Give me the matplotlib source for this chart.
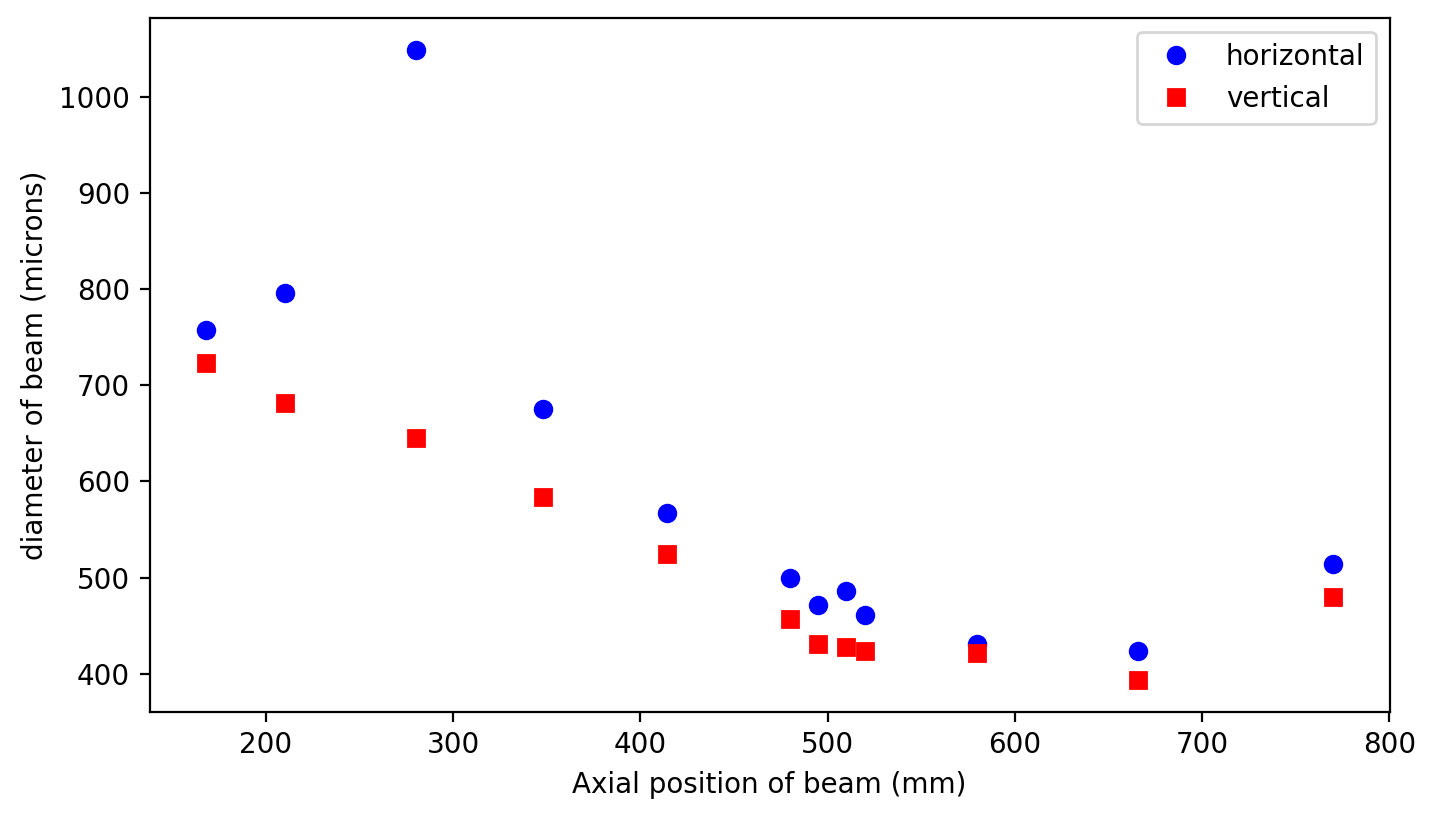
import matplotlib
matplotlib.use("Agg")
import matplotlib.pyplot as plt

# Axial positions (mm)
position = [168, 210, 280, 348, 414, 480, 495, 510, 520, 580, 666, 770]
# Beam diameters (microns)
horizontal = [757, 796, 1049, 675, 567, 500, 472, 486, 461, 431, 424, 514]
vertical = [723, 681, 645, 584, 524, 457, 431, 428, 424, 422, 393, 480]

fig = plt.figure(figsize=(7.175, 4.095), dpi=200)
ax = fig.add_subplot(111)
fig.subplots_adjust(left=0.1042, right=0.9683, top=0.978, bottom=0.1306)

ax.plot(position, horizontal, 'bo', label='horizontal')
ax.plot(position, vertical, 'rs', label='vertical')

ax.set_xlabel('Axial position of beam (mm)')
ax.set_ylabel('diameter of beam (microns)')
ax.legend(loc='upper right')

fig.savefig('out.png', dpi=200)
